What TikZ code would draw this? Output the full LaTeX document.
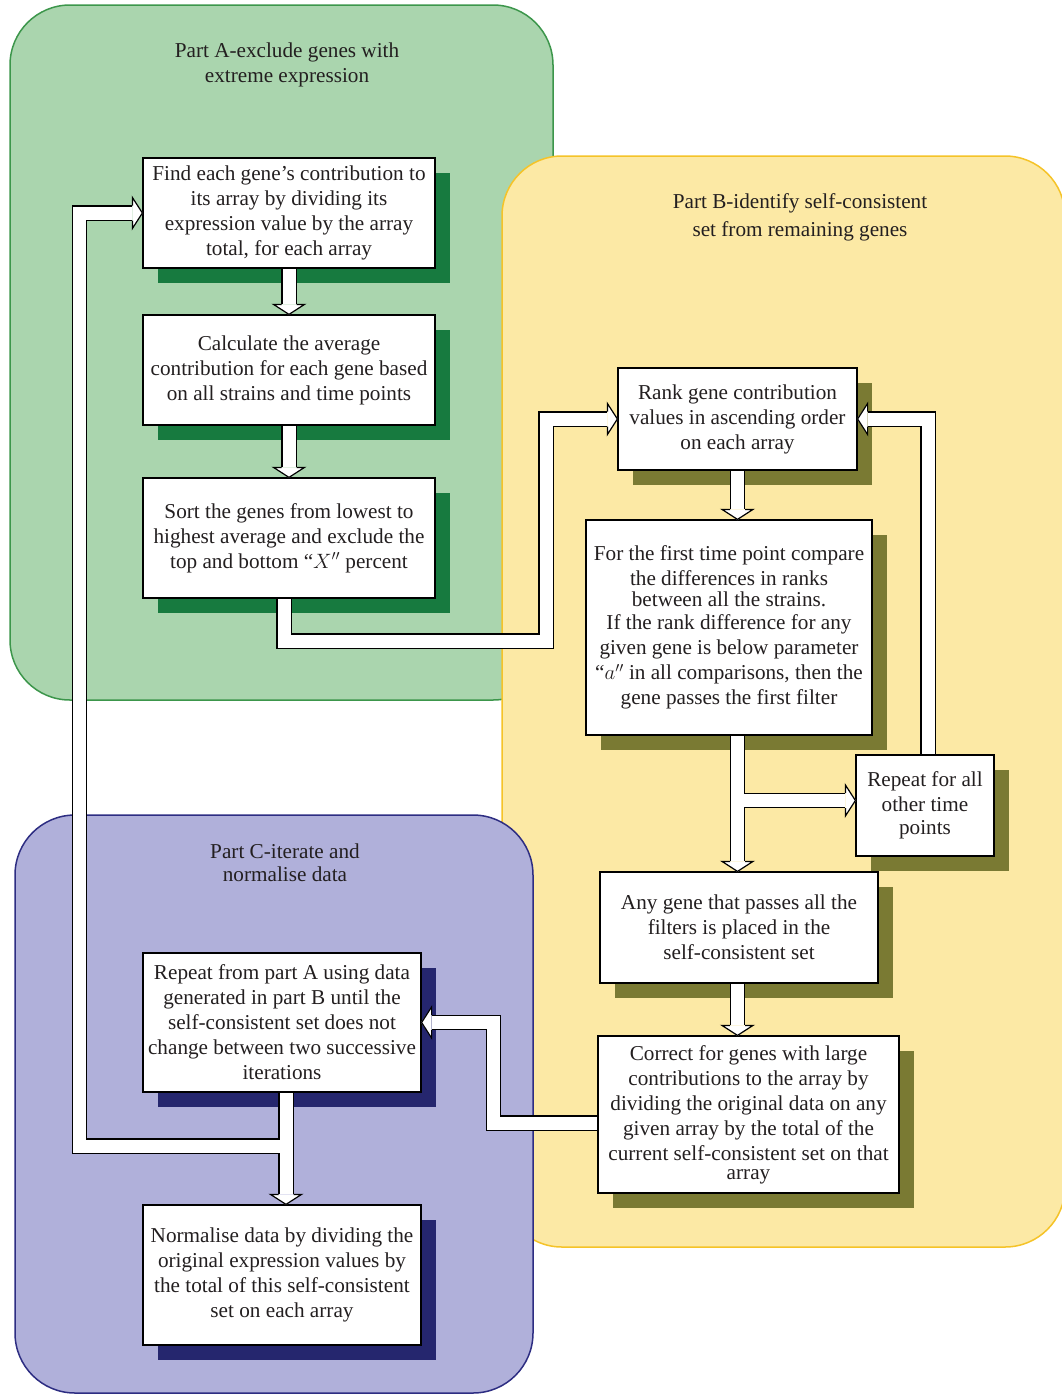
\documentclass[tikz,border=0pt]{standalone}
\usepackage{fontspec}
\setmainfont{Liberation Serif}
\usetikzlibrary{calc,shadows}
\definecolor{gfill}{RGB}{170,213,174}
\definecolor{gline}{RGB}{60,150,75}
\definecolor{gshad}{RGB}{23,122,63}
\definecolor{yfill}{RGB}{252,233,165}
\definecolor{yline}{RGB}{245,195,40}
\definecolor{yshad}{RGB}{122,122,51}
\definecolor{bfill}{RGB}{176,176,218}
\definecolor{bline}{RGB}{45,45,130}
\definecolor{bshad}{RGB}{37,38,110}
\definecolor{tcol}{RGB}{35,31,32}
\newcommand\fathead[2]{%
  \begin{scope}[shift={#1},rotate=#2]
    \fill[white] (0.6,0) -- (-10,15.5) -- (-10,-15.5) -- cycle;
    \draw[headline] (-10,7.5) -- (-10,15.5) -- (0,0) -- (-10,-15.5) -- (-10,-7.5);
  \end{scope}}
\begin{document}
\begin{tikzpicture}[x=1pt,y=-1pt,
  txt/.style={font=\fontsize{21.2}{25}\selectfont, text=tcol, align=center},
  title/.style={txt},
  region/.style={line width=1.5pt, rounded corners=60pt},
  box/.style={txt, draw=black, line width=1.2pt, fill=white, inner sep=0pt},
  boxA/.style={box, general shadow={fill=gshad, shadow xshift=15pt, shadow yshift=-15pt}},
  boxB/.style={box, general shadow={fill=yshad, shadow xshift=15pt, shadow yshift=-15pt}},
  boxC/.style={box, general shadow={fill=bshad, shadow xshift=15pt, shadow yshift=-15pt}},
  fat/.style={draw=white, line width=13pt, line join=miter, shorten >=10pt,
    preaction={draw=black, line width=15.4pt, line join=miter, shorten >=10pt}},
  fromnode/.style={shorten <=0.7pt},
  headline/.style={draw=black, line width=1.2pt, line join=miter},
]
\useasboundingbox (0,0) rectangle (1062,1395);
\begin{scope}
\clip (0,0) rectangle (1062,1395);
% regions
\draw[region, fill=gfill, draw=gline] (10,5) rectangle (553,700);
\draw[region, fill=yfill, draw=yline] (502,156) rectangle (1065,1247);
\draw[region, fill=bfill, draw=bline] (15,815) rectangle (533,1393);

% titles
\node[title] (tA) at (287,65) {Part A-exclude genes with\\extreme expression};
\node[title] (tB) at (800,217.5) {Part B-identify self-consistent\\[3pt]set from remaining genes};
\node[title] (tC) at (285,863) {Part C-iterate and\\[-2pt]normalise data};

% boxes
\node[boxA, minimum width=292pt, minimum height=110pt] (A1) at (289,213)
  {Find each gene’s contribution to\\its array by dividing its\\expression value by the array\\total, for each array};
\node[boxA, minimum width=292pt, minimum height=110pt] (A2) at (289,370)
  {Calculate the average\\contribution for each gene based\\on all strains and time points};
\node[boxA, minimum width=292pt, minimum height=120pt] (A3) at (289,538)
  {Sort the genes from lowest to\\highest average and exclude the\\top and bottom “$X''$ percent};

\node[boxB, minimum width=239pt, minimum height=102pt] (B1) at (737.5,419)
  {Rank gene contribution\\values in ascending order\\on each array};
\node[boxB, minimum width=286pt, minimum height=215pt] (B2) at (729,627.5)
  {For the first time point compare\\the differences in ranks\\[-4pt]between all the strains.\\[-2pt]If the rank difference for any\\given gene is below parameter\\“$a''$ in all comparisons, then the\\gene passes the first filter};
\node[boxB, minimum width=138pt, minimum height=101pt] (B3) at (925,805.5)
  {Repeat for all\\other time\\[-2pt]points};
\node[boxB, minimum width=278pt, minimum height=111pt] (B4) at (739,927.5)
  {Any gene that passes all the\\filters is placed in the\\self-consistent set};
\node[boxB, minimum width=301pt, minimum height=157pt] (B5) at (748.5,1114.5)
  {Correct for genes with large\\contributions to the array by\\dividing the original data on any\\given array by the total of the\\current self-consistent set on that\\[-6pt]array};

\node[boxC, minimum width=278pt, minimum height=139pt] (C1) at (282,1022.5)
  {Repeat from part A using data\\generated in part B until the\\self-consistent set does not\\change between two successive\\iterations};
\node[boxC, minimum width=278pt, minimum height=140pt] (C2) at (282,1275)
  {Normalise data by dividing the\\original expression values by\\the total of this self-consistent\\set on each array};

% connectors
\draw[fat, fromnode] (A1.south) -- (A2.north);
\draw[fat, fromnode] (A2.south) -- (A3.north);
\coordinate (a3s) at ($(A3.south)+(-5,0)$);
\draw[fat, fromnode] (a3s) |- (546,641) |- (B1.west);
\coordinate (b12) at (B1.south |- B2.north);
\draw[fat, fromnode] (B1.south) -- (b12);
\coordinate (b24) at (b12 |- B4.north);
\draw[fat, fromnode] (b12 |- B2.south) -- (b24);
\coordinate (b3in) at ($(B3.west)+(0,-5)$);
\draw[fat] ($(b12 |- b3in)+(6.5,0)$) -- (b3in);
\coordinate (b3n) at ($(B3.north)+(3,0)$);
\draw[fat, fromnode] (b3n) |- (B1.east);
\coordinate (b45) at (b12 |- B5.north);
\draw[fat, fromnode] (b12 |- B4.south) -- (b45);
\coordinate (b5w) at ($(B5.west)+(0,8.5)$);
\draw[fat, fromnode] (b5w) -| ($(C1.east)+(72,0)$) -- (C1.east);
\coordinate (c1s) at ($(C1.south)+(4,0)$);
\coordinate (c12) at (c1s |- C2.north);
\draw[fat, fromnode] (c1s) -- (c12);
\draw[fat] ($(c1s |- 0,1146)+(-6.5,0)$) -| ($(A1.west)+(-63,0)$) -- (A1.west);

% arrow heads
\fathead{(A2.north)}{-90}
\fathead{(A3.north)}{-90}
\fathead{(B1.west)}{0}
\fathead{(b12)}{-90}
\fathead{(b24)}{-90}
\fathead{(b3in)}{0}
\fathead{(B1.east)}{180}
\fathead{(b45)}{-90}
\fathead{(C1.east)}{180}
\fathead{(c12)}{-90}
\fathead{(A1.west)}{0}
\end{scope}
\end{tikzpicture}
\end{document}
